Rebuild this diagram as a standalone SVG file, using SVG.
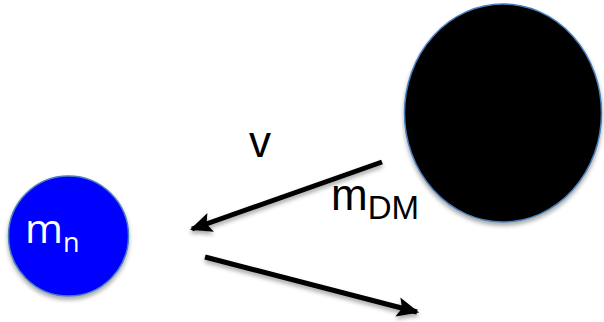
<svg xmlns="http://www.w3.org/2000/svg" width="604" height="322" viewBox="0 0 604 322">
  <defs>
    <filter id="shadow" x="-20%" y="-20%" width="140%" height="150%">
      <feDropShadow dx="0" dy="3" stdDeviation="2" flood-color="#000" flood-opacity="0.35"/>
    </filter>
    <marker id="head" viewBox="0 0 10 10" refX="9" refY="5" markerWidth="4.4" markerHeight="4.4" orient="auto" markerUnits="strokeWidth">
      <path d="M0,0.5 L10,5 L0,9.5 L2,5 z" fill="#000"/>
    </marker>
    <style>
      .body { stroke: #4a7ebb; stroke-width: 1.5; filter: url(#shadow); }
      .arrow { stroke: #000; stroke-width: 5; fill: none; marker-end: url(#head); filter: url(#shadow); }
      .lbl { font-family: "Liberation Sans", Arial, sans-serif; fill: #000; }
      .wlbl { font-family: "Open Sans", "Liberation Sans", sans-serif; fill: #fff; }
    </style>
  </defs>

  <g id="neutron">
    <circle class="body" cx="68.5" cy="236" r="60" fill="#0000ff"/>
    <text class="wlbl" x="25" y="243" font-size="41">m<tspan font-size="27" dy="9">n</tspan></text>
  </g>

  <g id="dark-matter">
    <ellipse class="body" cx="503" cy="113" rx="98.5" ry="109" fill="#000"/>
  </g>

  <g id="connectors">
    <line class="arrow" x1="382" y1="162" x2="192" y2="229"/>
    <line class="arrow" x1="205" y1="257" x2="417" y2="312"/>
  </g>

  <g id="labels">
    <text class="lbl" x="249" y="157" font-size="44">v</text>
    <text class="lbl" x="331" y="210" font-size="44">m<tspan font-size="33" dy="9">DM</tspan></text>
  </g>
</svg>
